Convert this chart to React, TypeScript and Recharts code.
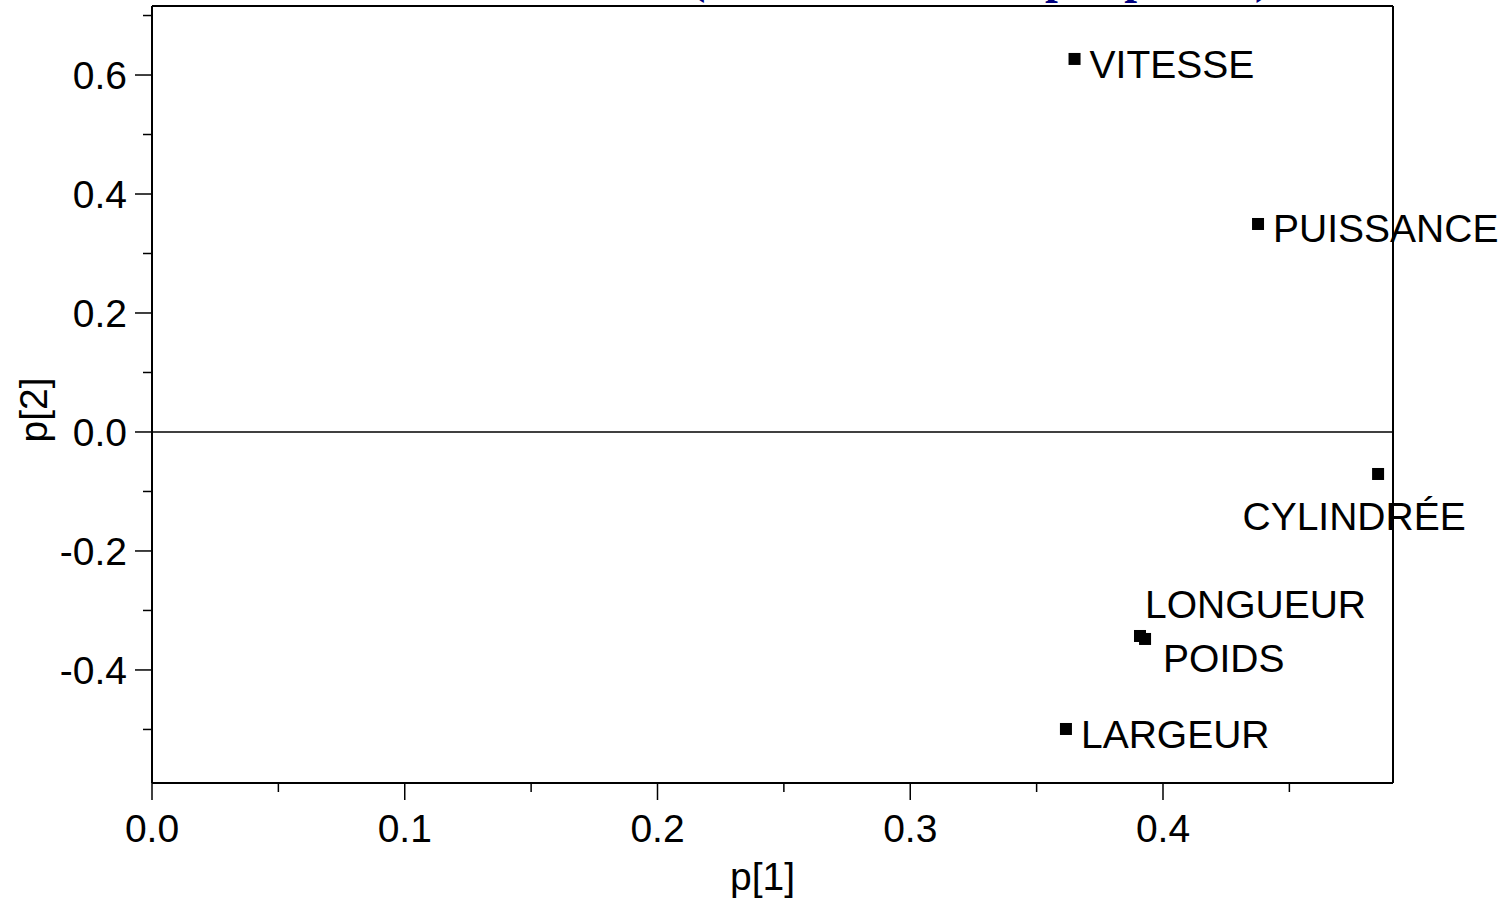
import {ScatterChart, Scatter, XAxis, YAxis, ReferenceLine} from 'recharts';

const variables = ['VITESSE', 'PUISSANCE', 'CYLINDRÉE', 'LONGUEUR', 'POIDS', 'LARGEUR'];
const p1 = [0.365, 0.4376, 0.4851, 0.3909, 0.3929, 0.3616];
const p2 = [0.627, 0.3496, -0.0706, -0.3429, -0.3479, -0.4992];
const xTicks = [0, 0.05, 0.1, 0.15, 0.2, 0.25, 0.3, 0.35, 0.4, 0.45];
const yTicks = [-0.5, -0.4, -0.3, -0.2, -0.1, 0, 0.1, 0.2, 0.3, 0.4, 0.5, 0.6, 0.7];

const data = variables.map((name, i) => ({name, x: p1[i], y: p2[i]}));

// label placement relative to the marker centre (dx, baseline dy, anchor)
const labelPos: Record<string, [number, number, string]> = {
    VITESSE: [15, 19, 'start'],
    PUISSANCE: [15, 18, 'start'],
    'CYLINDRÉE': [-24, 56, 'middle'],
    LONGUEUR: [5, -18, 'start'],
    POIDS: [18, 33, 'start'],
    LARGEUR: [15, 19, 'start'],
};

const FONT = '"Liberation Sans", Arial, sans-serif';
const isStep = (v: number, step: number) => Math.abs(v / step - Math.round(v / step)) < 1e-6;

const XTick = ({x, y, payload}: any) => {
    const major = isStep(payload.value, 0.1);
    return (
        <g>
            <line x1={x} x2={x} y1={y} y2={y + (major ? 17 : 9)} stroke="#000" strokeWidth={1.5}/>
            {major && (
                <text x={x} y={y + 59} textAnchor="middle" fontSize={39} fontFamily={FONT} fill="#000">
                    {payload.value.toFixed(1)}
                </text>
            )}
        </g>
    );
};

const YTick = ({x, y, payload}: any) => {
    const major = isStep(payload.value, 0.2);
    return (
        <g>
            <line x1={x} x2={x - (major ? 17 : 9)} y1={y} y2={y} stroke="#000" strokeWidth={1.5}/>
            {major && (
                <text x={x - 25} y={y + 14} textAnchor="end" fontSize={39} fontFamily={FONT} fill="#000">
                    {payload.value.toFixed(1)}
                </text>
            )}
        </g>
    );
};

const Point = ({cx, cy, payload}: any) => {
    const [dx, dy, anchor] = labelPos[payload.name];
    return (
        <g>
            <rect x={cx - 6} y={cy - 6} width={12} height={12} fill="#000"/>
            <text x={cx + dx} y={cy + dy} textAnchor={anchor} fontSize={39} fontFamily={FONT} fill="#000">
                {payload.name}
            </text>
        </g>
    );
};

export default function App() {
    return (
        <div style={{position: 'absolute', left: 0, top: 0, background: '#fff'}}>
            <svg width={1508} height={10} style={{position: 'absolute', left: 0, top: 0}}>
                <text y={-7} fontSize={46} fontWeight="bold" fontFamily='"Liberation Serif", serif' fill="#000080">
                    <tspan x={690}>(Coefficients</tspan>
                    <tspan x={1045}>p[1]p[2]</tspan>
                    <tspan x={1255}>)</tspan>
                </text>
            </svg>
            <ScatterChart width={1508} height={906} margin={{top: 6, right: 115, bottom: 0, left: 0}}>
                <XAxis
                    type="number"
                    dataKey="x"
                    domain={[0, 0.491]}
                    ticks={xTicks}
                    interval={0}
                    height={123}
                    tickSize={0}
                    tickMargin={0}
                    tickLine={false}
                    tick={<XTick/>}
                    axisLine={{stroke: '#000', strokeWidth: 2}}
                    label={{
                        content: ({viewBox}: any) => (
                            <text x={viewBox.x + viewBox.width / 2 - 10} y={890} textAnchor="middle"
                                  fontSize={39} fontFamily={FONT} fill="#000">p[1]</text>
                        ),
                    }}
                />
                <YAxis
                    type="number"
                    dataKey="y"
                    domain={[-0.59, 0.716]}
                    ticks={yTicks}
                    interval={0}
                    width={152}
                    tickSize={0}
                    tickMargin={0}
                    tickLine={false}
                    tick={<YTick/>}
                    axisLine={{stroke: '#000', strokeWidth: 2}}
                    label={{
                        content: () => (
                            <text x={47} y={410} transform="rotate(-90 47 410)" textAnchor="middle"
                                  fontSize={39} fontFamily={FONT} fill="#000">p[2]</text>
                        ),
                    }}
                />
                <ReferenceLine y={0} stroke="#000" strokeWidth={1.5}/>
                <ReferenceLine y={0.716} stroke="#000" strokeWidth={2}/>
                <ReferenceLine x={0.491} stroke="#000" strokeWidth={2}/>
                <Scatter data={data} shape={<Point/>} isAnimationActive={false}/>
            </ScatterChart>
        </div>
    );
}
